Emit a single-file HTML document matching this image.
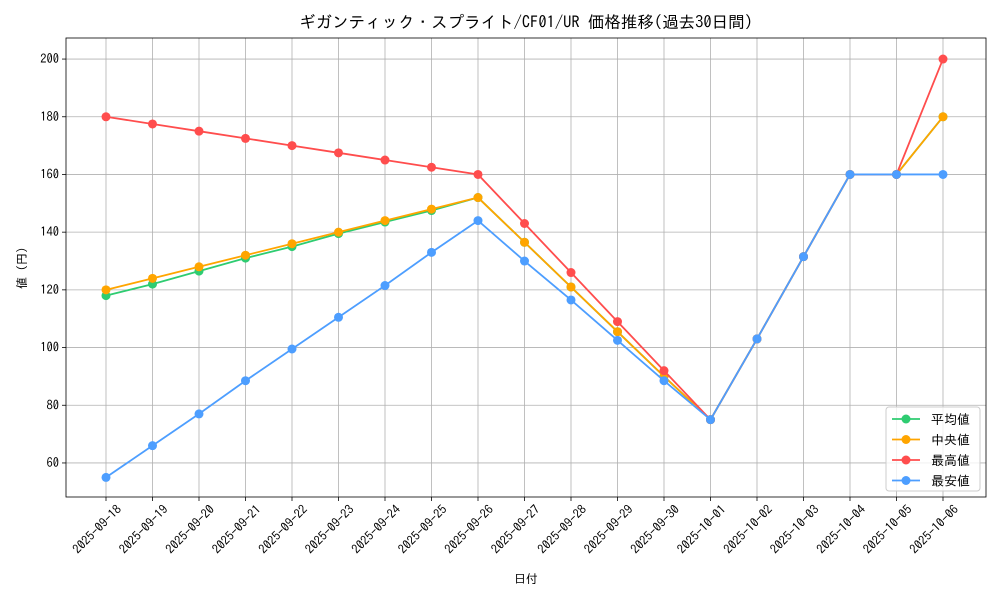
<!DOCTYPE html>
<html><head><meta charset="utf-8"><style>
body{margin:0;background:#fff;}
svg text{font-family:"IPAGothic","Noto Sans CJK JP",sans-serif;fill:#000;}
</style></head><body>
<svg id="chart" width="1000" height="600" xmlns="http://www.w3.org/2000/svg"></svg>
<script>
const categories=["2025-09-18","2025-09-19","2025-09-20","2025-09-21","2025-09-22","2025-09-23","2025-09-24","2025-09-25","2025-09-26","2025-09-27","2025-09-28","2025-09-29","2025-09-30","2025-10-01","2025-10-02","2025-10-03","2025-10-04","2025-10-05","2025-10-06"];
const avgValues=[118,122,126.5,131,135,139.5,143.5,147.5,152,136.5,121,105.5,90,75,103,131.5,160,160,180];
const medValues=[120,124,128,132,136,140,144,148,152,136.5,121,105.5,90,75,103,131.5,160,160,180];
const maxValues=[180,177.5,175,172.5,170,167.5,165,162.5,160,143,126,109,92,75,103,131.5,160,160,200];
const minValues=[55,66,77,88.5,99.5,110.5,121.5,133,144,130,116.5,102.5,88.5,75,103,131.5,160,160,160];
const yTicks=[60,80,100,120,140,160,180,200];
const seriesNames=["平均値","中央値","最高値","最安値"];
const NS="http://www.w3.org/2000/svg";
const svg=document.getElementById('chart');
const L=66,R=986,T=38,B=497,yMin=48.2,yMax=207.3;
const x=i=>106+(943-106)*i/(categories.length-1);
const y=v=>B-(v-yMin)/(yMax-yMin)*(B-T);
function mk(tag,attrs,parent){const e=document.createElementNS(NS,tag);for(const k in attrs)e.setAttribute(k,attrs[k]);(parent||svg).appendChild(e);return e;}
const grid=mk('g',{});


categories.forEach((c,i)=>{
  mk('line',{x1:x(i),x2:x(i),y1:T,y2:B,stroke:'#b0b0b0','stroke-width':0.8},grid);
  mk('line',{x1:x(i),x2:x(i),y1:B,y2:B+4,stroke:'#000','stroke-width':0.8});
  const t=mk('text',{x:0,y:0,'font-size':12.5,'text-anchor':'end',transform:`translate(${x(i)+10},${B+7}) rotate(-45)`,'dominant-baseline':'hanging'});
  t.textContent=c;
  
  
});
yTicks.forEach(v=>{
  mk('line',{x1:L,x2:R,y1:y(v),y2:y(v),stroke:'#b0b0b0','stroke-width':0.8},grid);
  mk('line',{x1:L-4,x2:L,y1:y(v),y2:y(v),stroke:'#000','stroke-width':0.8});
  const t=mk('text',{x:L-7,y:y(v)+4,'font-size':12.5,'text-anchor':'end'});
  t.textContent=v;
  
  
});
const frame=mk('rect',{x:L,y:T,width:R-L,height:B-T,fill:'none',stroke:'#000','stroke-width':0.8});


const colors=['#2ecc71','#ffa500','#ff4d4d','#4d9eff'];
const data=[avgValues,medValues,maxValues,minValues];
const order=[0,1,2,3];
order.forEach(s=>{
  const g=mk('g',{});
  
  
  mk('polyline',{points:data[s].map((v,i)=>x(i)+','+y(v)).join(' '),fill:'none',stroke:colors[s],'stroke-width':1.8},g);
  data[s].forEach((v,i)=>{const c=mk('circle',{cx:x(i),cy:y(v),r:4.5,fill:colors[s]},g);
    
    });
});
const lg=mk('g',{});


mk('rect',{x:886,y:407,width:94,height:84,rx:3,fill:'#fff','fill-opacity':0.8,stroke:'#ccc'},lg);
seriesNames.forEach((n,i)=>{
  const yy=419+i*20.5;
  const e=mk('g',{},lg);
  
  
  mk('line',{x1:892,x2:920,y1:yy,y2:yy,stroke:colors[i],'stroke-width':1.8},e);
  mk('circle',{cx:906,cy:yy,r:4.5,fill:colors[i]},e);
  const t=mk('text',{x:931,y:yy+5,'font-size':13},e);t.textContent=n;
});
const title=mk('text',{x:526,y:28,'font-size':16.5,'text-anchor':'middle'});
title.textContent='ギガンティック・スプライト/CF01/UR 価格推移(過去30日間)';


const xt=mk('text',{x:526,y:583,'font-size':12,'text-anchor':'middle'});
xt.textContent='日付';


const yt=mk('text',{x:0,y:0,'font-size':12,'text-anchor':'middle',transform:'translate(26,268) rotate(-90)'});
yt.textContent='値 (円)';


</script>
</body></html>
